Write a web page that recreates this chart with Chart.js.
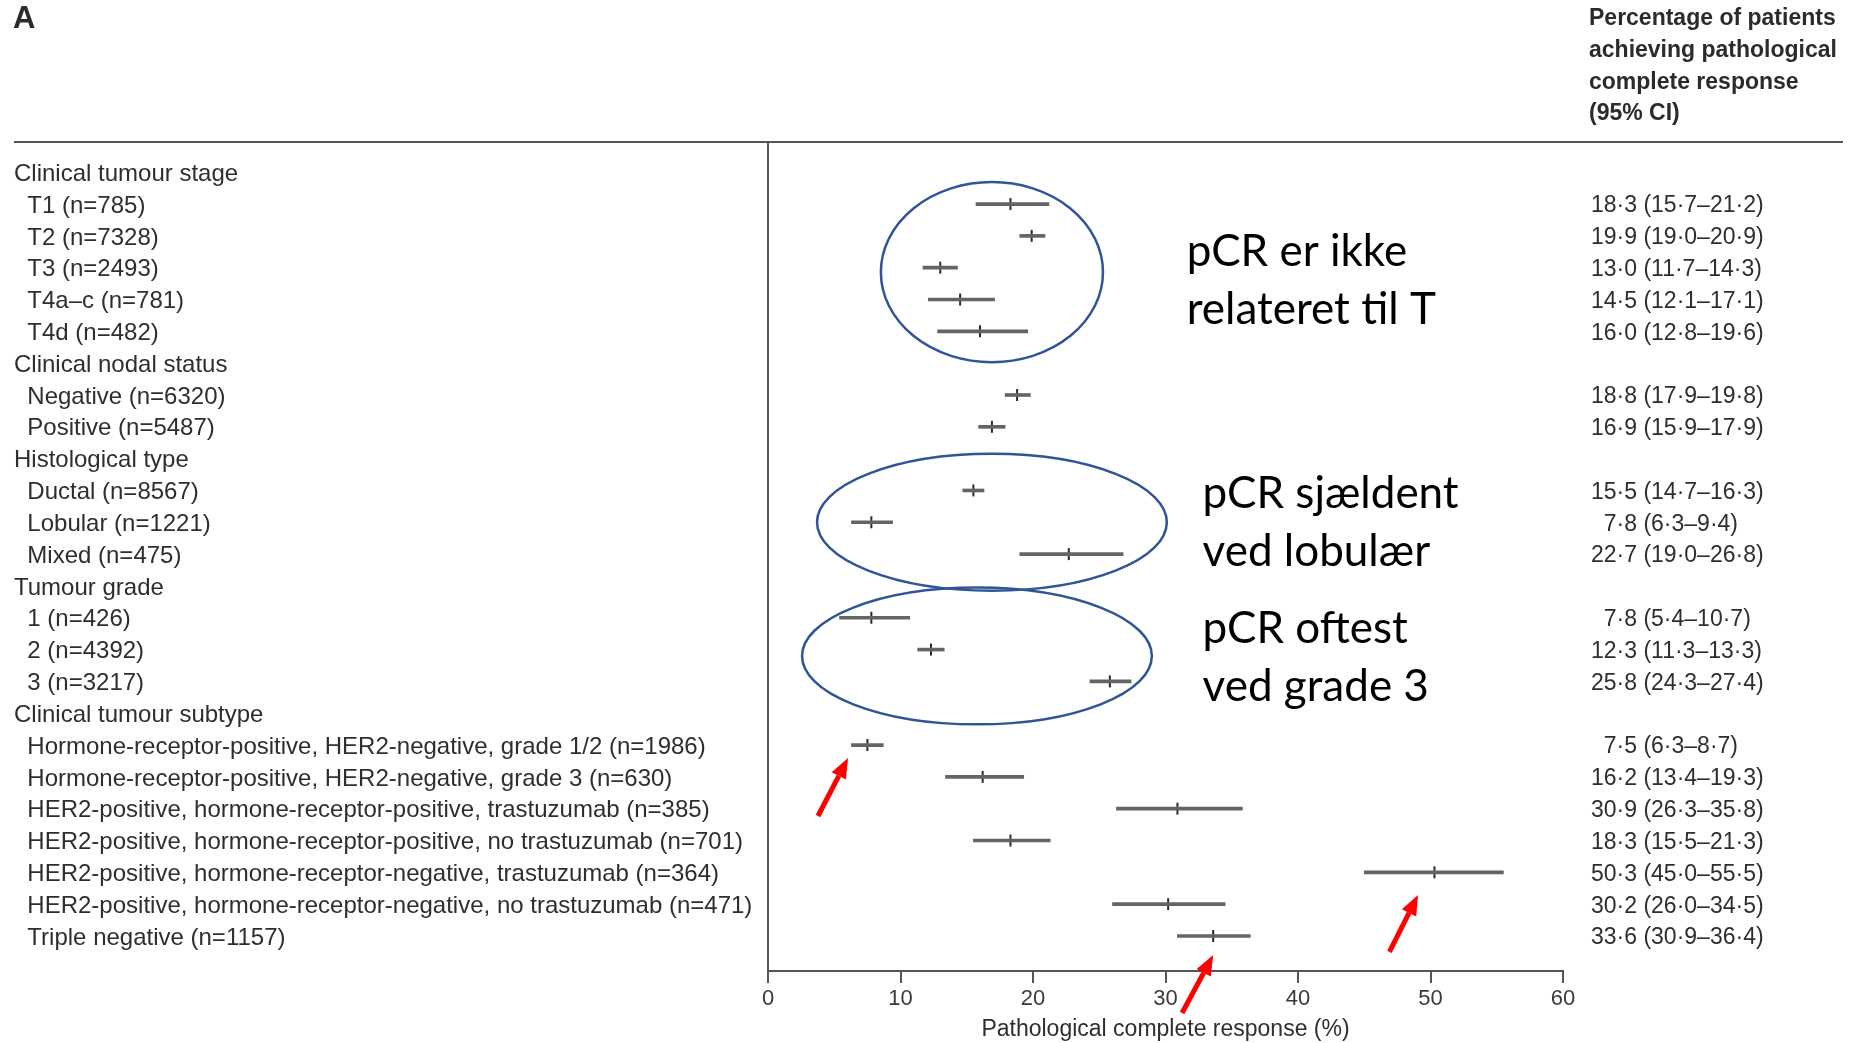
<!DOCTYPE html>
<html>
<head>
<meta charset="utf-8">
<script src="https://cdn.jsdelivr.net/npm/chart.js@4.4.1/dist/chart.umd.min.js"></script>
<style>
  html, body { margin: 0; padding: 0; background: #fff; }
  canvas { display: block; }
</style>
</head>
<body>
<canvas id="forest" width="1852" height="1043"></canvas>
<script>
// Rows of the forest plot, top to bottom (group headings have no estimate)
const rowLabels = [
  'Clinical tumour stage',
  'T1 (n=785)',
  'T2 (n=7328)',
  'T3 (n=2493)',
  'T4a\u2013c (n=781)',
  'T4d (n=482)',
  'Clinical nodal status',
  'Negative (n=6320)',
  'Positive (n=5487)',
  'Histological type',
  'Ductal (n=8567)',
  'Lobular (n=1221)',
  'Mixed (n=475)',
  'Tumour grade',
  '1 (n=426)',
  '2 (n=4392)',
  '3 (n=3217)',
  'Clinical tumour subtype',
  'Hormone-receptor-positive, HER2-negative, grade 1/2 (n=1986)',
  'Hormone-receptor-positive, HER2-negative, grade 3 (n=630)',
  'HER2-positive, hormone-receptor-positive, trastuzumab (n=385)',
  'HER2-positive, hormone-receptor-positive, no trastuzumab (n=701)',
  'HER2-positive, hormone-receptor-negative, trastuzumab (n=364)',
  'HER2-positive, hormone-receptor-negative, no trastuzumab (n=471)',
  'Triple negative (n=1157)'
];
const estimates = [null, 18.3, 19.9, 13.0, 14.5, 16.0, null, 18.8, 16.9, null, 15.5, 7.8, 22.7,
  null, 7.8, 12.3, 25.8, null, 7.5, 16.2, 30.9, 18.3, 50.3, 30.2, 33.6];
const lowerCI = [null, 15.7, 19.0, 11.7, 12.1, 12.8, null, 17.9, 15.9, null, 14.7, 6.3, 19.0,
  null, 5.4, 11.3, 24.3, null, 6.3, 13.4, 26.3, 15.5, 45.0, 26.0, 30.9];
const upperCI = [null, 21.2, 20.9, 14.3, 17.1, 19.6, null, 19.8, 17.9, null, 16.3, 9.4, 26.8,
  null, 10.7, 13.3, 27.4, null, 8.7, 19.3, 35.8, 21.3, 55.5, 34.5, 36.4];
const xTicks = [0, 10, 20, 30, 40, 50, 60];

// Highlight annotations, in axis units (x = %, row = row index)
const rings = [
  { x: 16.9, row: 3.14, rx: 8.38, ry: 2.83 },
  { x: 16.9, row: 11.0, rx: 13.2, ry: 2.15 },
  { x: 15.77, row: 15.2, rx: 13.2, ry: 2.15 }
];
const notes = [
  { x: 31.6, rows: [2.95, 4.78], lines: ['pCR er ikke', 'relateret til T'] },
  { x: 32.8, rows: [10.56, 12.36], lines: ['pCR sj\u00e6ldent', 'ved lobul\u00e6r'] },
  { x: 32.8, rows: [14.8, 16.62], lines: ['pCR oftest', 'ved grade 3'] }
];
const arrows = [
  { from: [3.77, 20.23], to: [6.04, 18.41] },
  { from: [31.25, 26.42], to: [33.6, 24.6] },
  { from: [46.9, 24.5], to: [49.06, 22.71] }
];

const FONT = "'Liberation Sans', Arial, sans-serif";
const rows = rowLabels.map((_, i) => i);
const isHeading = i => estimates[i] === null;
const rowText = rows.map(i => (isHeading(i) ? '' : '  ') + rowLabels[i]);

const fmt = v => v.toFixed(1).replace('.', '\u00b7');
const ciText = rows.map(i => isHeading(i) ? '' :
  (estimates[i] < 10 ? '\u2007' : '') + fmt(estimates[i]) + ' (' + fmt(lowerCI[i]) + '\u2013' + fmt(upperCI[i]) + ')');

const ciData = rows.filter(i => !isHeading(i)).map(i => ({ x: [lowerCI[i], upperCI[i]], y: i }));
const pointData = rows.filter(i => !isHeading(i)).map(i => ({ x: estimates[i], y: i }));

const decorations = {
  id: 'decorations',
  afterDraw(chart) {
    const { ctx, chartArea, scales: { x, y } } = chart;
    ctx.save();

    // panel letter and right-hand column heading
    ctx.fillStyle = '#2b2b2b';
    ctx.textBaseline = 'middle';
    ctx.font = "bold 31px " + FONT;
    ctx.fillText('A', 13, 19);
    ctx.font = "bold 23px " + FONT;
    ['Percentage of patients', 'achieving pathological', 'complete response', '(95% CI)']
      .forEach((t, k) => ctx.fillText(t, 1589, 19 + k * 31.7));

    // header rule and left edge of the plot panel
    ctx.strokeStyle = '#555';
    ctx.lineWidth = 2;
    ctx.beginPath();
    ctx.moveTo(14, chartArea.top);
    ctx.lineTo(1843, chartArea.top);
    ctx.moveTo(chartArea.left, chartArea.top);
    ctx.lineTo(chartArea.left, chartArea.bottom);
    ctx.stroke();

    // rings
    ctx.strokeStyle = '#2f5597';
    ctx.lineWidth = 2.5;
    rings.forEach(r => {
      const cx = x.getPixelForValue(r.x);
      const cy = y.getPixelForValue(r.row);
      const rx = Math.abs(x.getPixelForValue(r.x + r.rx) - cx);
      const ry = Math.abs(y.getPixelForValue(r.row + r.ry) - cy);
      ctx.beginPath();
      ctx.ellipse(cx, cy, rx, ry, 0, 0, Math.PI * 2);
      ctx.stroke();
    });

    // notes
    ctx.fillStyle = '#000';
    ctx.font = "44px Lato, 'Open Sans', sans-serif";
    ctx.textBaseline = 'alphabetic';
    notes.forEach(n => {
      n.lines.forEach((t, k) => ctx.fillText(t, x.getPixelForValue(n.x), y.getPixelForValue(n.rows[k])));
    });

    // red arrows
    ctx.strokeStyle = '#ff0000';
    ctx.fillStyle = '#ff0000';
    ctx.lineWidth = 5;
    arrows.forEach(a => {
      const x0 = x.getPixelForValue(a.from[0]), y0 = y.getPixelForValue(a.from[1]);
      const x1 = x.getPixelForValue(a.to[0]), y1 = y.getPixelForValue(a.to[1]);
      const ang = Math.atan2(y1 - y0, x1 - x0);
      const head = 20, half = 8;
      const bx = x1 - head * Math.cos(ang), by = y1 - head * Math.sin(ang);
      ctx.beginPath();
      ctx.moveTo(x0, y0);
      ctx.lineTo(bx, by);
      ctx.stroke();
      ctx.beginPath();
      ctx.moveTo(x1, y1);
      ctx.lineTo(bx + half * Math.sin(ang), by - half * Math.cos(ang));
      ctx.lineTo(bx - half * Math.sin(ang), by + half * Math.cos(ang));
      ctx.closePath();
      ctx.fill();
    });

    ctx.restore();
  }
};

// hidden row axes that carry the left labels and the right-hand CI column
const rowAxis = (position, text, width, tickOpts) => ({
  type: 'linear',
  position,
  reverse: true,
  min: -0.95,
  max: 25.1,
  offset: false,
  grid: { display: false, drawTicks: false, offset: false },
  border: { display: false },
  afterBuildTicks: s => { s.ticks = rows.map(v => ({ value: v })); },
  afterFit: s => { s.width = width; },
  ticks: Object.assign({
    autoSkip: false,
    color: '#2e2e2e',
    labelOffset: 2,
    callback: v => text[v]
  }, tickOpts)
});

new Chart(document.getElementById('forest'), {
  type: 'scatter',
  data: {
    datasets: [
      {
        type: 'bar',
        indexAxis: 'y',
        data: ciData,
        backgroundColor: '#646464',
        barThickness: 3,
        xAxisID: 'x',
        yAxisID: 'y'
      },
      {
        type: 'scatter',
        data: pointData,
        pointStyle: 'line',
        pointRotation: 90,
        pointRadius: 6,
        pointBorderWidth: 2,
        pointBorderColor: '#2a2a2a',
        xAxisID: 'x',
        yAxisID: 'y'
      }
    ]
  },
  options: {
    responsive: false,
    animation: false,
    layout: { padding: { left: 14, right: 0, top: 142, bottom: 0 } },
    plugins: { legend: { display: false }, tooltip: { enabled: false } },
    scales: {
      x: {
        type: 'linear',
        position: 'bottom',
        min: 0,
        max: 60,
        offset: false,
        afterBuildTicks: s => { s.ticks = xTicks.map(v => ({ value: v })); },
        afterFit: s => { s.height = 72; },
        grid: { display: true, drawOnChartArea: false, drawTicks: true, tickLength: 12, color: '#555', lineWidth: 2, offset: false },
        border: { display: true, color: '#555', width: 2 },
        ticks: { color: '#3a3a3a', font: { family: FONT, size: 22 }, padding: 3, maxRotation: 0 },
        title: {
          display: true,
          text: 'Pathological complete response (%)',
          color: '#2e2e2e',
          font: { family: FONT, size: 23 },
          padding: { top: 0, bottom: 0 }
        }
      },
      y: rowAxis('left', rowText, 754, {
        crossAlign: 'far',
        padding: 0,
        font: { family: FONT, size: 24 }
      }),
      yR: rowAxis('right', ciText, 289, {
        crossAlign: 'near',
        padding: 28,
        font: { family: FONT, size: 23 }
      })
    }
  },
  plugins: [decorations]
});
</script>
</body>
</html>
